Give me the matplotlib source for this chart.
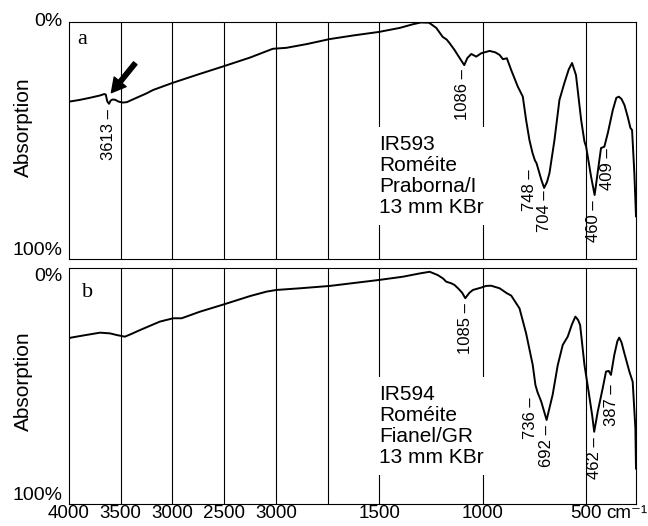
import matplotlib
matplotlib.use("Agg")
import matplotlib.pyplot as plt
import numpy as np

plt.rcParams['font.family'] = ['Liberation Sans', 'DejaVu Sans']
plt.rcParams['mathtext.default'] = 'regular'

# IR593 Romeite, Praborna/I  (wavenumber cm-1, absorption %)
wn_a = [4000, 3900, 3800, 3700, 3660, 3645, 3630, 3613, 3598, 3580, 3555, 3520,
        3480, 3440, 3400, 3250, 3188, 3000, 2750, 2500, 2250, 2060, 2030, 1950,
        1850, 1740, 1620, 1503, 1402, 1340, 1300, 1260, 1225, 1194, 1175, 1161,
        1137, 1110, 1090, 1075, 1056, 1032, 1008, 968, 940, 919, 903, 884, 863,
        831, 807, 791, 775, 760, 748, 741, 717, 704, 690, 678, 654, 630, 606,
        585, 569, 550, 525, 509, 501, 477, 460, 452, 437, 429, 413, 396, 372,
        355, 343, 330, 316, 300, 287, 279, 268, 260]
abs_a = [33.6, 32.9, 32.0, 31.0, 30.4, 30.6, 33.5, 34.5, 33.2, 32.7, 32.8, 33.6,
         34.0, 33.8, 33.0, 30.1, 28.7, 25.7, 22.1, 18.6, 15.0, 11.8, 11.3, 10.9,
         9.3, 7.2, 5.6, 4.2, 2.5, 1.0, 0.2, 0.3, 2.5, 6.3, 7.4, 8.9,
         11.8, 15.5, 18.2, 15.2, 13.5, 14.6, 13.2, 12.2, 12.8, 13.9, 15.7, 15.3, 20.3,
         27.3, 31.5, 41.4, 49.8, 55.3, 58.5, 59.5, 66.7, 70.0, 67.5, 63.7, 49.8, 32.9, 25.7,
         20.0, 17.3, 22.4, 41.4, 50.5, 52.6, 65.3, 73.0, 67.9, 58.2, 53.2, 52.6, 46.8, 37.1,
         32.0, 31.5, 32.5, 35.0, 40.0, 44.7, 45.6, 63.7, 82.0]

# IR594 Romeite, Fianel/GR
wn_b = [4000, 3981, 3850, 3700, 3604, 3539, 3460, 3400, 3314, 3121, 2992, 2911,
        2734, 2502, 2251, 2090, 1997, 1884, 1740, 1505, 1387, 1305, 1257, 1218,
        1193, 1177, 1152, 1137, 1120, 1100, 1085, 1065, 1048, 1008, 985, 960, 919,
        884, 863, 823, 791, 759, 746, 736, 718, 705, 692, 680, 663, 638, 614, 590,
        570, 553, 540, 530, 509, 489, 472, 462, 445, 421, 405, 392, 381, 365, 350,
        341, 330, 316, 292, 276, 263, 260]
abs_b = [29.8, 29.5, 28.5, 27.4, 27.7, 28.4, 29.1, 28.0, 26.3, 22.7, 21.3, 21.3,
         18.5, 15.4, 11.9, 10.0, 9.3, 8.6, 7.6, 5.1, 3.7, 2.3, 1.6, 3.0,
         4.4, 5.8, 6.5, 7.2, 8.6, 10.5, 12.8, 10.5, 9.3, 8.3, 7.6, 7.5, 8.6,
         10.7, 11.7, 17.1, 27.7, 41.1, 49.6, 52.6, 56.6, 60.5, 64.4, 60.0, 53.8, 41.1, 32.6, 29.1,
         24.0, 20.6, 22.0, 24.2, 41.1, 52.4, 62.3, 69.4, 60.9, 51.0, 43.9, 43.6, 45.3, 36.9, 31.0,
         29.5, 31.5, 36.2, 43.9, 48.2, 67.9, 85.0]

# band labels: text, wavenumber
peaks_a = [("3613", 3613), ("1086", 1090), ("748", 748), ("704", 704),
           ("460", 460), ("409", 409)]
peaks_b = [("1085", 1085), ("736", 736), ("692", 692), ("462", 462), ("387", 387)]

sample_a = "IR593\nRoméite\nPraborna/I\n13 mm KBr"
sample_b = "IR594\nRoméite\nFianel/GR\n13 mm KBr"

tick_wn = [4000, 3500, 3000, 2500, 2000, 1500, 1000, 500]
tick_labels = ["4000", "3500", "3000", "2500", "3000", "1500", "1000", "500"]
grid_wn = [3500, 3000, 2500, 2000, 1750, 1500, 1000, 500]


def fwd(w):
    w = np.asarray(w, dtype=float)
    return np.where(w <= 2000, w, 2000 + (w - 2000) / 2.0)


def inv(p):
    p = np.asarray(p, dtype=float)
    return np.where(p <= 2000, p, 2000 + (p - 2000) * 2.0)


# label offsets (points): dx, gap below curve
offs_a = {"3613": (-0.5, 3.5), "1086": (-1.5, 2.5), "748": (-4, 6.5), "704": (0, 2),
          "460": (-0.5, 3.5), "409": (2, 3.5)}
offs_b = {"1085": (0, 3.5), "736": (-5, 3.5), "692": (0, 3.5), "462": (0, 3.5),
          "387": (1.5, 8.5)}

fig = plt.figure(figsize=(6.48, 5.26), dpi=100)
ax_a = fig.add_axes([69 / 648, 1 - 259 / 526, 567 / 648, 237 / 526])
ax_b = fig.add_axes([69 / 648, 1 - 504 / 526, 567 / 648, 236 / 526])

panels = [
    (ax_a, wn_a, abs_a, peaks_a, offs_a, sample_a, "a", (6, -16), 0.558, 0.35),
    (ax_b, wn_b, abs_b, peaks_b, offs_b, sample_b, "b", (9.5, -21), 0.521, 0.33),
]

for ax, wn, ab, peaks, offs, sample, letter, lpos, ylab_y, samp_y in panels:
    ax.set_xscale('function', functions=(fwd, inv))
    ax.set_xlim(4000, 260)
    ax.set_ylim(100, 0)
    for g in grid_wn:
        ax.axvline(g, color='black', lw=0.8, zorder=1)
    ax.plot(wn, ab, color='black', lw=1.4, zorder=2)
    for s in ax.spines.values():
        s.set_linewidth(0.8)

    ax.set_yticks([0, 100])
    ax.set_yticklabels(["0%", "100%"])
    ax.tick_params(axis='y', length=0, labelsize=14, pad=5)
    ax.tick_params(axis='x', length=0, labelsize=13.5, pad=1)
    ax.set_ylabel("Absorption", fontsize=15)
    ax.yaxis.set_label_coords(-0.063, ylab_y)

    ax.set_xticks(tick_wn)
    ax.xaxis.set_minor_locator(matplotlib.ticker.NullLocator())

    for txt, w in peaks:
        dx, gap = offs[txt]
        yv = np.interp(w, wn[::-1], ab[::-1])
        ax.annotate(txt + " –", xy=(w, yv), xytext=(dx, -gap),
                    textcoords='offset points', rotation=90,
                    ha='center', va='top', fontsize=12, zorder=4)

    ax.annotate(letter, xy=(0, 1), xycoords='axes fraction', xytext=lpos,
                textcoords='offset points', ha='left', va='baseline',
                fontsize=16, family='Liberation Serif')

    ax.text(1500, samp_y, sample, transform=ax.get_xaxis_transform(),
            ha='left', va='center', fontsize=15, linespacing=1.12,
            bbox=dict(facecolor='white', edgecolor='none', pad=6), zorder=3)

labels_a = ax_a.get_yticklabels()
labels_a[0].set_va('center')
labels_a[1].set_va('bottom')
labels_b = ax_b.get_yticklabels()
labels_b[0].set_va('top')
labels_b[1].set_va('bottom')

ax_a.set_xticklabels([])
ax_b.set_xticklabels(tick_labels)
ax_b.annotate("cm⁻¹", xy=(500, 0), xycoords=('data', 'axes fraction'),
              xytext=(14, -1), textcoords='offset points', ha='left', va='top',
              fontsize=13.5)

# arrow pointing at the 3613 band
ax_a.annotate("", xy=(3590, 29.8), xytext=(3360, 17.4),
              arrowprops=dict(facecolor='black', edgecolor='black', width=3.2,
                              headwidth=11, headlength=10, shrink=0))

fig.savefig("out.png", dpi=100)
